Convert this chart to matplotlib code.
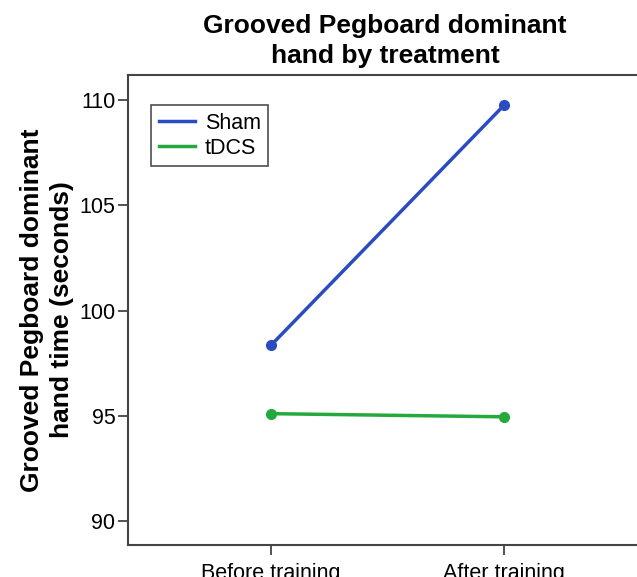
import matplotlib
matplotlib.use("Agg")
import matplotlib.pyplot as plt

plt.rcParams['font.family'] = ['Liberation Sans', 'DejaVu Sans']

categories = ["Before training", "After training"]
sham = [98.35, 109.75]
tdcs = [95.1, 94.95]
yticks = [90, 95, 100, 105, 110]

fig = plt.figure(figsize=(6.37, 5.77), dpi=100)
ax = fig.add_axes([128/637, 1-545/577, (647-128)/637, (545-75)/577])

x = list(range(len(categories)))
ax.plot(x, sham, color="#2b4cc0", lw=2.5, marker="o", ms=7, label="Sham")
ax.plot(x, tdcs, color="#25a83c", lw=2.5, marker="o", ms=7, label="tDCS")

ax.set_xlim(-0.614, 1.614)
ax.set_ylim(88.86, 111.19)
ax.set_yticks(yticks)
ax.set_xticks(x)
ax.set_xticklabels(categories)
for s in ax.spines.values():
    s.set_color("#444444")
    s.set_linewidth(1.5)
ax.tick_params(direction="out", length=7, width=1.3, color="#444444", labelsize=15.5)
ax.tick_params(axis="x", pad=6)
ax.tick_params(axis="y", pad=2)

ax.set_ylabel("Grooved Pegboard dominant\nhand time (seconds)", fontsize=19, fontweight="bold",
              labelpad=4, linespacing=1.3)
fig.text(385/637, 1-41/577, "Grooved Pegboard dominant\nhand by treatment", ha="center", va="center",
         fontsize=19, fontweight="bold", linespacing=1.3)

leg = ax.legend(loc="upper left", bbox_to_anchor=((151-128)/519, (545-105)/470), fontsize=15.5,
                frameon=True, fancybox=False, edgecolor="#222222", handlelength=1.7,
                borderpad=0.35, labelspacing=0.2, handletextpad=0.45, borderaxespad=0)
leg.get_frame().set_linewidth(1.2)
for h in leg.legend_handles:
    h.set_marker("")

fig.savefig("out.png", dpi=100)
